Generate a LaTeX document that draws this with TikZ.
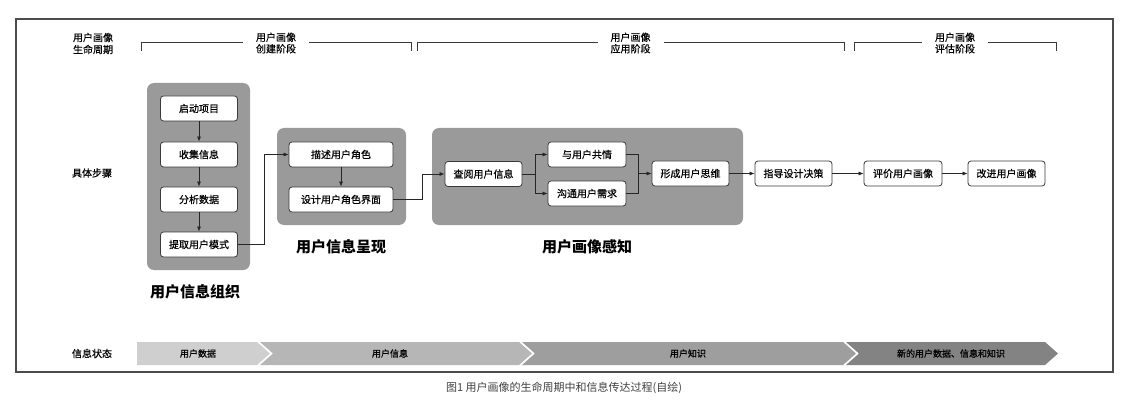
\documentclass[tikz,border=0pt]{standalone}
\usepackage{fontspec}
\setmainfont{Noto Sans CJK SC}
\newfontfamily\mediumfont{Noto Sans CJK SC}[FakeBold=0.6]
\usetikzlibrary{arrows.meta}
\definecolor{groupgray}{HTML}{9A9A9A}
\definecolor{linegray}{HTML}{3A3A3A}
\definecolor{barone}{HTML}{CFCFCF}
\definecolor{bartwo}{HTML}{B6B6B6}
\definecolor{barthree}{HTML}{9E9E9E}
\definecolor{barfour}{HTML}{838383}
\begin{document}
\begin{tikzpicture}[x=1pt,y=-1pt,
    stepbox/.style={draw=linegray,fill=white,rounded corners=3pt,line width=0.8pt,
      minimum width=77pt,minimum height=25pt,inner sep=0pt,font=\mediumfont\fontsize{10}{12}\selectfont},
    widebox/.style={stepbox,minimum width=104pt},
    groupbox/.style={fill=groupgray,rounded corners=7pt},
    grouptitle/.style={font=\fontsize{15}{18}\selectfont\bfseries},
    sidelabel/.style={align=center,font=\mediumfont\fontsize{10}{12}\selectfont},
    phase/.style={fill=white,align=center,inner xsep=13pt,inner ysep=1pt,
      font=\mediumfont\fontsize{10}{11.5}\selectfont},
    bracket/.style={line width=1pt,draw=linegray},
    barlabel/.style={font=\mediumfont\fontsize{9}{10}\selectfont},
    flow/.style={-{Latex[length=5pt,width=4pt]},line width=0.7pt,draw=black!85}]
  \useasboundingbox (0,0) rectangle (1130,417);
  \draw[line width=1.2pt,draw=black!70] (16,19) rectangle (1113,372);
  % lifecycle phases
  \draw[bracket] (141,51) -- (141,43) -- node[phase] (create) {用户画像\\创建阶段} (411,43) -- (411,51);
  \draw[bracket] (417,51) -- (417,43) -- node[phase] (apply) {用户画像\\应用阶段} (844,43) -- (844,51);
  \draw[bracket] (854,51) -- (854,43) -- node[phase] (assess) {用户画像\\评估阶段} (1056,43) -- (1056,51);
  \node[sidelabel] (life) at (93,43.5) {用户画像\\生命周期};
  \node[sidelabel] (steps) at (92,173) {具体步骤};
  \node[sidelabel] (state) at (92,353.5) {信息状态};
  % groups
  \fill[groupbox] (147,83) rectangle (250,270);
  \fill[groupbox] (277,128) rectangle (406,225);
  \fill[groupbox] (432,128) rectangle (743,225);
  \node[grouptitle] (organize) at (195,292) {用户信息组织};
  \node[grouptitle] (present) at (341,247) {用户信息呈现};
  \node[grouptitle] (perceive) at (587,247) {用户画像感知};
  % steps
  \draw
    (199,108.5) node[stepbox] (qidong) {启动项目}
    (199,154.5) node[stepbox] (shouji) {收集信息}
    (199,199.5) node[stepbox] (fenxi) {分析数据}
    (199,244.5) node[stepbox] (tiqu) {提取用户模式}
    (341,154.5) node[widebox] (miaoshu) {描述用户角色}
    (341,199.5) node[widebox] (sheji) {设计用户角色界面}
    (483.5,174) node[stepbox] (chayue) {查阅用户信息}
    (587,154.5) node[stepbox,minimum width=78pt] (gongqing) {与用户共情}
    (587,193.5) node[stepbox,minimum width=78pt] (goutong) {沟通用户需求}
    (690.5,173.5) node[stepbox] (xingcheng) {形成用户思维}
    (793.5,173.5) node[stepbox] (zhidao) {指导设计决策}
    (903,173.5) node[stepbox,minimum width=78pt] (pingjia) {评价用户画像}
    (1006.5,173.5) node[stepbox] (gaijin) {改进用户画像};
  \coordinate (split) at (535,174);
  \coordinate (merge) at (638,173.5);
  \begin{scope}[flow]
    \draw (qidong) to (shouji);
    \draw (shouji) to (fenxi);
    \draw (fenxi) to (tiqu);
    \draw (tiqu.east) -- ++(26,0) |- (miaoshu.west);
    \draw (miaoshu) to (sheji);
    \draw (sheji.east) -- ++(29,0) |- (chayue.west);
    \draw[-] (chayue.east) -- (split);
    \draw (split) |- (gongqing.west);
    \draw (split) |- (goutong.west);
    \draw[-] (gongqing.east) -| (merge);
    \draw[-] (goutong.east) -| (merge);
    \draw (merge) -- (xingcheng.west);
    \draw (xingcheng) to (zhidao);
    \draw (zhidao) to (pingjia);
    \draw (pingjia) to (gaijin);
  \end{scope}
  % information states
  \fill[barone] (137,342) -- (257,342) -- (270,353.5) -- (257,365) -- (137,365) -- cycle;
  \fill[bartwo] (260,342) -- (519,342) -- (532,353.5) -- (519,365) -- (260,365) -- (273,353.5) -- cycle;
  \fill[barthree] (522,342) -- (843,342) -- (856,353.5) -- (843,365) -- (522,365) -- (535,353.5) -- cycle;
  \fill[barfour] (846,342) -- (1045,342) -- (1058,353.5) -- (1045,365) -- (846,365) -- (859,353.5) -- cycle;
  \node[barlabel] (data) at (198,353.5) {用户数据};
  \node[barlabel] (info) at (390,353.5) {用户信息};
  \node[barlabel] (know) at (688,353.5) {用户知识};
  \node[barlabel] (newall) at (951,353.5) {新的用户数据、信息和知识};
  \node[font=\fontsize{11}{13}\selectfont,text=black!75] (caption) at (564,388)
    {图1\ 用户画像的生命周期中和信息传达过程(自绘)};
\end{tikzpicture}
\end{document}
